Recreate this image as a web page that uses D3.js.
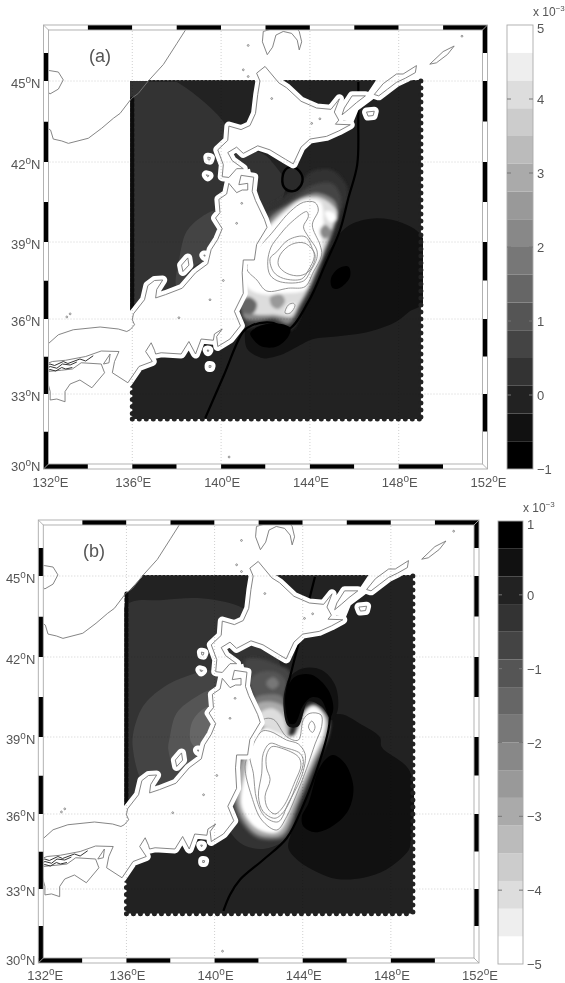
<!DOCTYPE html>
<html>
<head>
<meta charset="utf-8">
<script src="https://cdn.jsdelivr.net/npm/d3@7/dist/d3.min.js"></script>
<style>
  body { margin: 0; background: #fff; }
  svg { display: block; filter: blur(0.45px); }
  text { font-family: "Liberation Sans", Arial, sans-serif; fill: #555; }
</style>
</head>
<body>
<div id="chart"></div>
<script>
// axis labels
const lonTicks = [132, 136, 140, 144, 148, 152];
const latTicks = [30, 33, 36, 39, 42, 45];
const lonBreaks = [132, 134, 136, 138, 140, 142, 144, 146, 148, 150, 152];
const latBreaks = [30, 31.5, 33, 34.5, 36, 37.5, 39, 40.5, 42, 43.5, 45, 46, 47];
const barTicksA = [-1, 0, 1, 2, 3, 4, 5];
const barTicksB = [-5, -4, -3, -2, -1, 0, 1];
const grays = ["#000", "#111", "#222", "#333", "#444", "#555", "#666", "#777",
  "#888", "#999", "#aaa", "#bbb", "#ccc", "#ddd", "#eee", "#fff"];

// land, [lon, lat]
const honshu = [[131.8,34.1],[132.4,34.3],[133,34.35],[133.9,34.5],[134.6,34.72],[135.4,34.7],[135.2,34.3],[135.1,33.85],[135.8,33.45],[136.3,34.1],[136.9,34.3],[136.6,34.7],[136.85,35.05],[137,34.75],[137.05,34.6],[137.3,34.65],[138.2,34.6],[138.55,35.1],[138.85,34.6],[139.1,35.2],[139.65,35.15],[139.7,35.4],[140.05,35.6],[139.8,35.3],[139.85,34.9],[140.4,35.2],[140.87,35.73],[140.6,36.3],[141,37],[140.95,37.8],[141,38.3],[141.5,38.3],[141.6,38.9],[142.07,39.55],[141.95,39.85],[141.55,40.55],[141.4,40.9],[141.47,41.43],[140.9,41.5],[140.8,41.15],[141.2,41.2],[141.2,40.95],[140.95,40.95],[140.7,40.85],[140.35,41.2],[140.25,40.8],[139.9,40.6],[139.95,40.1],[139.75,39.9],[140.05,39.5],[139.85,39.1],[139.55,38.7],[139.4,38.15],[138.85,37.8],[138.25,37.2],[137.5,36.95],[137.05,36.82],[137.1,37.15],[137.37,37.52],[137,37.5],[136.7,37.3],[136.55,36.75],[136.05,36.2],[136,35.97],[136.1,35.77],[135.9,35.57],[135.75,35.5],[135.37,35.6],[134.55,35.68],[133.34,35.57],[132.67,35.37],[132.2,35],[131.8,34.8]];
const hokkaido = [[141.6,45.28],[141.98,45.52],[142.6,44.93],[142.95,44.75],[143.6,44.25],[144.3,44],[144.95,43.95],[145.33,44.34],[145.1,43.85],[145.3,43.55],[145.15,43.4],[145.82,43.38],[145.3,43.15],[144.75,42.95],[144,42.85],[143.6,42.55],[143.25,41.93],[142.9,42.1],[142.2,42.45],[141.65,42.6],[141,42.32],[140.7,42.55],[140.3,42.35],[140.5,42.05],[141,41.75],[140.7,41.75],[140.35,41.42],[140.05,41.45],[140.1,41.9],[139.85,42.45],[140.3,42.8],[140.35,43.33],[140.9,43.2],[141.3,43.35],[141.55,43.8],[141.65,44.5],[141.75,45]];
const shikoku = [[134.6,34.2],[134.75,33.85],[134.18,33.25],[133.64,33.56],[133.2,33.4],[132.97,33.1],[132.97,32.69],[132.6,32.8],[132.3,32.76],[132.3,33.1],[132.2,33.43],[132.05,33.6],[132.2,33.9],[132.8,33.95],[133.3,34],[133.7,34.25]];
const awaji = [[134.7,34.2],[135,34.6],[134.95,34.25]];
const sado = [[138.22,38.1],[138.5,38.38],[138.55,38.1],[138.28,37.85]];
const kunashiri = [[145.45,43.75],[145.55,44],[145.9,44.45],[146.5,44.45],[146.1,44.2],[145.75,43.95]];
const etorofu = [[146.9,44.5],[147.3,44.9],[147.9,45.25],[148.2,45.25],[148.8,45.55],[148.75,45.3],[148.3,45.1],[147.9,44.95],[147.5,44.7],[147.1,44.45]];
const urup = [[149.4,45.6],[150,46.05],[150.5,46.25],[150.2,45.95],[149.7,45.65]];
const shikotan = [[146.55,43.85],[146.9,43.88],[146.85,43.72],[146.62,43.7]];
const okushiri = [[139.4,42.18],[139.52,42.16],[139.48,42.07],[139.42,42.08]];
const oshima = [[139.33,41.52],[139.46,41.49],[139.4,41.44]];
const awashima = [[139.22,38.49],[139.28,38.49],[139.26,38.44]];
const miyake = [[139.46,34.14],[139.55,34.13],[139.53,34.06],[139.46,34.06]];
const izuOshima = [[139.37,34.76],[139.45,34.75],[139.41,34.69]];
const landRings = [honshu, hokkaido, shikoku, awaji, sado, kunashiri, etorofu, urup, shikotan, okushiri, oshima, awashima, miyake, izuOshima];

const primorye = [[138.45,46.89],[138,46.33],[137.4,45.59],[136.72,45],[136.27,44.54],[135.97,44.36],[135.45,43.8],[135.15,43.62],[134.62,43.25],[134.02,42.88],[133.12,42.69],[132.82,42.78],[132.44,42.85],[132.32,43.18],[132.1,43.3],[131.9,43.3]];
const khanka = [[132,45.4],[132.29,45.37],[132.67,45.32],[132.89,45.04],[132.67,44.7],[132.29,44.52],[132.1,44.7]];
const sakhalin = [[142.43,46.89],[141.9,46.77],[141.86,46.4],[142.08,45.94],[142.32,46.21],[142.47,46.64],[142.8,46.77],[143.18,46.7],[143.43,46.46],[143.52,46.11],[143.63,46.4],[143.52,46.77],[143.4,46.89]];
const setoNorth = [[132.1,34.12],[132.29,34.2],[132.5,34.14],[132.89,34.3],[133.1,34.22],[133.64,34.4],[133.9,34.32],[134.24,34.53]];
const setoMid = [[132.1,34],[132.3,34.1],[132.6,34.03],[132.85,34.2],[133.2,34.16],[133.5,34.28]];
const setoSouth = [[132.1,33.88],[132.29,33.98],[132.55,33.92],[132.82,34.06],[133,34],[133.3,34.06]];
const openCoasts = [primorye, khanka, sakhalin];
const setoIslands = [setoNorth, setoMid, setoSouth];

const islets = [[141.22,45.16],[141,45.4],[141.22,46.27],[142.28,44.35],[144.45,43.6],[144.08,43.43],[140.93,40.45],[140.7,39.7],[140.1,37.5],[139.5,36.75],[138.1,36.05],[140.36,30.48],[133.2,36.2],[133.05,36.08],[150.85,46.6]];

// shallow water the field leaves blank
const tsugaruGap = [[140,41.5],[141.3,41.75],[141.4,41.4],[140.3,41.1]];
const kurilGap = [[147,45.05],[146.63,44.6],[145.8,44.48],[145.43,44.23],[145.3,43.6],[145.95,43.45],[146.18,43.92],[146.7,44.23],[147.76,44.9],[147.9,45.05]];
const gaps = [tsugaruGap, kurilGap];

// field outline
const fieldRing = [[136.75,45],[149,45],[149,32],[136,32],[136,44.35]];
const edgeRight = [[149,45],[149,32]];
const edgeBottom = [[136,32],[149,32]];
const edgeLeftUp = [[136,44.35],[136,36]];
const edgeLeftLow = [[136,33.9],[136,32]];
const edgeTop = [[136.75,45],[149,45]];

// panel (a) contour bands
const aWest = [[135.9,45.2],[137.4,45.2],[140.1,43.5],[140.5,42.6],[141.9,42.3],[142.4,41.9],[142.9,41.2],[142.7,40.5],[142,39.5],[141,39],[140,36],[135.9,36]];
const aWestIn = [[138.15,38.52],[138.45,39.4],[139.05,39.9],[139.8,40.2],[141,40],[141,37.5],[139.05,38.17],[138,37.27]];
const aEast = [[145.13,39.01],[145.43,39.39],[145.95,39.7],[147,39.89],[148.2,39.7],[149.1,39.14],[149.1,36.62],[148.5,36.3],[147.9,35.9],[146.7,35.5],[145.2,35.3],[144.15,35.2],[143.55,34.95],[142.8,34.6],[142.2,34.45],[141.9,34.43],[141.2,34.77],[141.07,35.3],[141.15,35.64],[143,36],[144,37.5]];
const aHot1 = [[141.83,40.14],[142.73,40.64],[143.56,41.2],[144.08,41.64],[144.98,41.7],[145.6,41.2],[145.7,40.7],[145.43,40.14],[145.13,39.39],[144.68,38.36],[144.23,37.32],[143.71,36.42],[143.18,35.57],[142.13,35.83],[141.08,35.63],[140.78,36.67],[141.08,38.1],[141.53,39]];
const aHot2 = [[141.98,39.95],[142.81,40.39],[143.56,40.83],[144.16,41.14],[144.98,41.2],[145.36,40.76],[145.36,40.14],[145.06,39.39],[144.61,38.43],[144.16,37.4],[143.66,36.55],[143.11,35.76],[142.13,35.96],[141.23,35.76],[140.93,36.67],[141.23,38.1],[141.61,39]];
const aHot3 = [[142.21,39.89],[143.03,40.39],[143.71,40.7],[144.38,40.83],[145.13,40.51],[145.21,40.01],[144.98,39.33],[144.53,38.36],[144,37.26],[143.56,36.55],[143.03,35.83],[142.43,36.03],[141.68,35.96],[141.08,36.03],[140.93,36.67],[141.23,38.1],[141.61,38.88]];
const aHot4 = [[142.13,39.58],[142.88,40.2],[143.71,40.64],[144.53,40.64],[145.21,40.14],[145,39.55],[144.53,38.5],[144.16,37.72],[143.86,37.13],[143.48,36.55],[143.18,36.09],[142.43,36.16],[141.68,36.16],[141.08,36.29],[140.93,37.2],[141.23,38.1],[141.61,38.75]];
const aHot5 = [[142.06,39.45],[142.96,40.14],[143.71,40.57],[144.46,40.51],[144.61,39.75],[144.53,39],[144.53,38.5],[144.11,37.72],[143.78,37.13],[142.88,37],[141.98,36.95],[141.23,37.2],[140.93,38],[141.53,38.88]];
const aSpotNE = [[144.68,40.13],[144.98,40.13],[145.21,39.87],[144.91,39.74]];
const aSpotGray = [[144.46,39.45],[144.68,39.65],[144.95,39.42],[144.76,39.14],[144.53,39.2]];
const aSpotB = [[140.86,36.61],[141.23,36.87],[141.61,36.61],[141.46,36.23],[141.01,36.23]];
const aSpotC = [[142.21,36.84],[142.66,36.97],[142.88,36.71],[142.58,36.39],[142.28,36.52]];
const aSpotW = [[142.88,36.23],[143.03,36.55],[143.26,36.61],[143.33,36.52],[143.11,36.23]];
const aColdE = [[144.98,37.26],[144.95,37.59],[145.29,37.97],[145.74,38.04],[145.81,37.65],[145.43,37.26],[145.14,37.17]];
const aColdS = [[141.31,35.43],[141.68,35.7],[142.43,35.83],[143.11,35.65],[143.03,35.3],[142.51,34.9],[141.83,34.9],[141.46,35.17]];
const aLoop = [[142.76,41.39],[142.96,41.76],[143.33,41.79],[143.66,41.45],[143.56,41.08],[143.26,40.91],[142.88,41.01]];
const aBase = [[aWest, 0.3], [aWestIn, 0.6], [aEast, -0.4]];
const aHot = [[aHot1, 0.3], [aHot2, 0.6], [aHot3, 2.1], [aHot4, 4], [aHot5, 4.9], [aSpotNE, 4.9], [aSpotGray, 2.1], [aSpotB, 1.6], [aSpotC, 2.5], [aSpotW, 4.9]];
const aCold = [[aColdE, -0.8], [aColdS, -0.8]];

const aLine1 = [[142.28,39.33],[142.58,39.64],[143.11,40.14],[143.71,40.49],[144.23,40.48],[144.38,40.2],[144.11,39.64],[144.46,38.88],[144.53,38.49],[144.16,37.84],[143.78,37.26],[143.03,37.2],[142.06,37.09],[141.61,37.52],[141.16,37.97],[141.68,38.75]];
const aLine2 = [[142.25,38.8],[142.58,39.2],[143.11,39.7],[143.86,40.14],[143.93,39.95],[143.71,39.57],[143.93,39.2],[144.31,38.69],[144.31,38.36],[144.01,37.84],[143.71,37.48],[142.66,37.45],[142.21,37.71],[142.1,38.23]];
const aLine3 = [[142.51,38.62],[143.03,39.08],[143.78,39.2],[144.11,38.75],[144.2,38.43],[143.93,37.9],[143.63,37.56],[142.81,37.58],[142.36,37.84],[142.21,38.36]];
const aLine4 = [[142.66,38.5],[143.18,38.91],[143.78,38.95],[144.23,38.5],[144.01,37.91],[143.56,37.69],[142.96,37.78],[142.58,38.1]];
const aLines = [aLine1, aLine2, aLine3, aLine4, aSpotW];
const aFront = [[[139.28,32.03],[140.1,33.7],[141,35.5],[141.4,35.75],[142.3,35.85],[143.03,35.6],[143.93,36.67],[144.68,38.1],[145.36,39.45],[145.73,40.64],[146.13,41.89],[146.18,43.5],[146.18,45]]];

// panel (b) contour bands
const bWest1 = [[135.9,43.85],[137.67,44.11],[139.49,44.17],[141.3,43.8],[142.2,43],[142.8,42.2],[143,41.2],[142.5,40],[141,38],[140,36],[135.9,36]];
const bWest2 = [[136.3,39.1],[136.75,40.15],[137.65,40.85],[138.7,41.27],[139.9,41.5],[141,41],[141,37],[137,37],[136.6,37.45],[136.3,38.5]];
const bWest3 = [[137.97,39],[138.28,39.9],[139.19,40.52],[139.87,40.78],[141,40.8],[141,37],[138.3,37.7],[137.9,38.5]];
const bWest4 = [[138.88,39],[139.03,39.65],[139.8,40.15],[141,39.5],[141,38.5],[139.4,38.5],[139,38.7]];
const bEast = [[145.17,39.78],[145.77,39.85],[146.6,39.5],[147.5,39],[147.59,38.6],[148.87,37.65],[148.87,34.7],[148.72,34.45],[147.8,33.78],[146.76,33.45],[145.55,33.4],[144.64,33.68],[143.8,34.13],[143.35,34.63],[143.43,35.1],[144.03,36.35],[144.79,38.1],[145.09,39.2]];
const bSouth = [[140.55,35.76],[141.15,34.85],[142.21,34.6],[143.27,35.03],[143.6,36],[141.5,37]];
const bEdge1 = [[141.38,41.89],[141.99,41.95],[142.89,41.7],[143.42,41.45],[143.27,40.89],[143.2,40.14],[143.5,39.45],[143.12,39.08],[142.29,39.51],[141.84,40.39],[141.46,41.39]];
const bEdge2 = [[141.61,41.14],[142.14,41.45],[142.89,41.39],[143.27,41.01],[143.12,40.51],[143.42,39.4],[143.05,39.14],[142.29,39.58],[141.91,40.26]];
const bEdge3 = [[141.76,40.39],[142.29,40.58],[143.05,40.51],[143.27,39.89],[143.42,39.26],[143.05,39.01],[142.14,39.51]];
const bEdge4 = [[141.91,40.2],[142.44,40.33],[143.12,40.14],[143.35,39.45],[143.35,39.01],[142.89,38.95],[142.14,39.64]];
const bEdge5 = [[142.06,39.89],[142.59,40.08],[143.05,39.83],[143.23,39.36],[143.27,38.95],[142.59,38.95],[142.06,39.58]];
const bSpot = [[142.36,41.07],[142.67,41.24],[142.92,41.01],[142.67,40.79],[142.41,40.89]];
const bHot1 = [[140.93,36.16],[141.84,35.09],[142.74,34.96],[143.2,35.09],[143.88,36.43],[144.56,37.84],[145.16,39.01],[145.24,39.64],[144.86,40.08],[144.48,40.26],[144.1,40.08],[143.73,39.46],[143.5,38.95],[143.05,39.01],[142.14,39.39],[141.68,38.88],[140.93,37.6]];
const bHot2 = [[141.08,36.23],[141.84,35.25],[142.74,35.09],[143.12,35.23],[143.8,36.56],[144.48,37.93],[145.09,39.08],[145.13,39.64],[144.83,40.04],[144.48,40.2],[144.13,40.04],[143.77,39.36],[143.53,39.08],[143.05,39.1],[142.29,39.37],[141.76,38.88],[141.08,37.6]];
const bHot3 = [[141.23,36.29],[141.91,35.43],[142.74,35.25],[143.05,35.43],[143.65,36.62],[144.33,37.93],[144.94,39.08],[145.01,39.64],[144.79,40],[144.48,40.14],[144.18,40],[143.83,39.33],[143.58,39.01],[143.05,39.1],[142.29,39.33],[141.76,38.88],[141.38,37.6]];
const bHookOut = [[143.42,41.26],[144.03,41.58],[144.86,41.51],[145.47,40.95],[145.59,40.01],[145.32,39.64],[144.86,40.14],[144.26,40.33],[143.8,39.4],[143.35,39.4],[143.12,40.26],[143.23,40.89]];
const bHook = [[143.27,40.76],[143.65,41.26],[144.41,41.33],[145.16,40.76],[145.39,40.08],[145.24,39.74],[144.83,40.41],[144.41,40.49],[144.03,40.2],[143.65,39.51],[143.42,39.51],[143.2,40.26]];
const bColdE = [[145.39,38.3],[145.92,37.97],[146.3,37.06],[146.08,36.16],[145.32,35.5],[144.56,35.27],[144.03,35.5],[143.96,35.9],[144.26,36.42],[144.71,37.71],[145.09,38.17]];
const bBase = [[bWest1, -0.25], [bWest2, -0.6], [bWest3, -1], [bWest4, -1.4], [bEast, 0.4], [bSouth, -0.25]];
const bHot = [[bEdge1, -0.6], [bEdge2, -1], [bSpot, -1.8], [bEdge3, -1.8], [bEdge4, -3], [bEdge5, -4], [bHot1, -1.4], [bHot2, -3], [bHot3, -4.9]];
const bCold = [[bHookOut, 0.4], [bHook, 0.8], [bColdE, 0.8]];

const bLine1 = [[142.21,39.66],[142.67,39.66],[143.27,39.01],[143.8,38.88],[144.03,39.66],[144.33,39.89],[144.83,39.83],[144.86,39.4],[144.56,38.73],[144.18,37.78],[143.8,36.93],[143.27,35.89],[142.82,35.36],[142.14,35.76],[141.68,36.69],[141.38,37.84],[141.53,38.36],[141.84,39.14]];
const bLine2 = [[141.61,38.3],[142.14,39.21],[142.52,39.21],[143.27,38.88],[143.8,38.73],[144.1,38.36],[144.1,37.97],[143.88,37.32],[143.35,36.43],[142.89,35.69],[142.29,35.89],[141.91,36.56],[141.76,37.59]];
const bLine3 = [[142.21,38.36],[142.52,38.75],[143.05,38.62],[143.88,38.36],[144.03,38.04],[143.73,37.2],[143.2,36.16],[142.74,35.83],[142.21,36.09],[141.99,36.69],[142.14,37.59]];
const bLine4 = [[142.36,38.3],[142.59,38.62],[143.05,38.56],[143.8,38.23],[143.92,37.9],[143.65,37.27],[143.12,36.29],[142.74,36],[142.41,36.22],[142.29,36.69],[142.52,37.34],[142.36,37.79]];
const bLine5 = [[144.26,39.38],[144.41,39.6],[144.56,39.38],[144.44,39.17]];
const bLines = [bLine1, bLine2, bLine3, bLine4, bLine5];
const bFront = [[[140.4,32.11],[140.7,32.77],[141.15,33.37],[142.21,34.17],[143.27,35.03],[144.03,36.35],[144.79,38.1],[145.17,39.27],[145.24,39.78]],
  [[144.56,44.98],[144.33,44.24],[143.81,42.5],[143.5,41.5],[143.28,40.65],[143.42,39.5]]];

const latStops = [30, 33, 36, 39, 42, 45, 46, 47];

const svg = d3.select("#chart").append("svg").attr("width", 565).attr("height", 983);
const defs = svg.append("defs");
defs.append("filter").attr("id", "soft").attr("x", "-20%").attr("y", "-20%").attr("width", "140%").attr("height", "140%")
  .append("feGaussianBlur").attr("stdDeviation", 1.6);

function tickLabel(g, px, py, anchor, value, hemi) {
  const t = g.append("text").attr("x", px).attr("y", py).attr("text-anchor", anchor).attr("font-size", 13);
  t.append("tspan").text(value);
  t.append("tspan").attr("font-size", 10).attr("dy", -5).text("o");
  t.append("tspan").attr("dy", 5).text(hemi);
}

function drawPanel(p) {
  const g = svg.append("g");
  const x = d3.scaleLinear().domain([132, 152]).range([p.left, p.right]);
  const y = d3.scaleLinear().domain(latStops).range(p.latRange);
  const inset = 5;
  const clipId = "clip" + p.id;
  defs.append("clipPath").attr("id", clipId).append("rect")
    .attr("x", p.left + inset).attr("y", y(47) + inset)
    .attr("width", p.right - p.left - 2 * inset).attr("height", y(30) - y(47) - 2 * inset);
  const fieldClip = "field" + p.id;
  defs.append("clipPath").attr("id", fieldClip).append("rect")
    .attr("x", x(135.9)).attr("y", y(45)).attr("width", x(149.1) - x(135.9)).attr("height", y(32) - y(45));

  const flat = d3.line().x(d => x(d[0])).y(d => y(d[1]));
  const poly = d3.line().x(d => x(d[0])).y(d => y(d[1])).curve(d3.curveLinearClosed);
  const round = d3.line().x(d => x(d[0])).y(d => y(d[1])).curve(d3.curveCatmullRomClosed.alpha(0.5));
  const bend = d3.line().x(d => x(d[0])).y(d => y(d[1])).curve(d3.curveCatmullRom.alpha(0.5));

  // filled field
  const inner = g.append("g").attr("clip-path", `url(#${clipId})`);
  const field = inner.append("g").attr("clip-path", `url(#${fieldClip})`);
  field.append("path").attr("d", poly(fieldRing)).attr("fill", p.color(p.baseValue));
  field.selectAll(".base").data(p.base).enter().append("path")
    .attr("d", d => round(d[0])).attr("fill", d => p.color(d[1]));
  field.append("g").attr("filter", "url(#soft)")
    .selectAll("path").data(p.hot).enter().append("path")
    .attr("d", d => round(d[0])).attr("fill", d => p.color(d[1]));
  field.selectAll(".cold").data(p.cold).enter().append("path")
    .attr("d", d => round(d[0])).attr("fill", d => p.color(d[1]));
  field.selectAll(".iso").data(p.lines).enter().append("path")
    .attr("d", d => round(d)).attr("fill", "none").attr("stroke", "#8a8a8a").attr("stroke-width", 0.9);
  if (p.loop) {
    field.append("path").attr("d", round(p.loop)).attr("fill", "#2a2a2a")
      .attr("stroke", "#000").attr("stroke-width", 2.4);
  }
  field.selectAll(".front").data(p.front).enter().append("path")
    .attr("d", d => bend(d)).attr("fill", "none").attr("stroke", "#000").attr("stroke-width", 2.2);

  // jagged edges of the field
  const edges = [[edgeRight, p.color(p.baseValue), 5, "0 7"], [edgeBottom, p.color(p.baseValue), 5, "0 7"],
    [edgeLeftLow, p.color(p.baseValue), 5, "0 7"], [edgeLeftUp, "#0c0c0c", 4, "3 2"], [edgeTop, p.color(p.baseValue), 2, "2 2"]];
  inner.selectAll(".edge").data(edges).enter().append("path")
    .attr("d", d => flat(d[0])).attr("fill", "none").attr("stroke", d => d[1])
    .attr("stroke-width", d => d[2]).attr("stroke-dasharray", d => d[3]).attr("stroke-linecap", "round");

  // land mask with its white halo
  inner.selectAll(".gap").data(gaps).enter().append("path")
    .attr("d", d => poly(d)).attr("fill", "#fff");
  inner.selectAll(".halo").data(landRings).enter().append("path")
    .attr("d", d => poly(d)).attr("fill", "#fff").attr("stroke", "#fff")
    .attr("stroke-width", 9).attr("stroke-linejoin", "round");

  // grid
  const grid = inner.append("g").style("mix-blend-mode", "multiply");
  grid.selectAll(".gx").data(lonTicks.slice(1, -1)).enter().append("line")
    .attr("x1", d => x(d)).attr("x2", d => x(d)).attr("y1", y(47)).attr("y2", y(30))
    .attr("stroke", "#c4c4c4").attr("stroke-width", 0.8).attr("stroke-dasharray", "1 2");
  grid.selectAll(".gy").data(latTicks.slice(1)).enter().append("line")
    .attr("y1", d => y(d)).attr("y2", d => y(d)).attr("x1", x(132)).attr("x2", x(152))
    .attr("stroke", "#c4c4c4").attr("stroke-width", 0.8).attr("stroke-dasharray", "1 2");

  // coast
  inner.selectAll(".coast").data(landRings).enter().append("path")
    .attr("d", d => poly(d)).attr("fill", "none").attr("stroke", "#777").attr("stroke-width", 0.9);
  inner.selectAll(".open").data(openCoasts).enter().append("path")
    .attr("d", d => flat(d)).attr("fill", "none").attr("stroke", "#777").attr("stroke-width", 0.9);
  inner.selectAll(".seto").data(setoIslands).enter().append("path")
    .attr("d", d => flat(d)).attr("fill", "none").attr("stroke", "#333").attr("stroke-width", 1);
  inner.selectAll(".islet").data(islets).enter().append("circle")
    .attr("cx", d => x(d[0])).attr("cy", d => y(d[1])).attr("r", 0.9)
    .attr("fill", "#fff").attr("stroke", "#666").attr("stroke-width", 0.7);

  // fancy frame
  const frame = g.append("g");
  const top = y(47), bottom = y(30), left = x(132), right = x(152);
  d3.pairs(lonBreaks).forEach((b, i) => {
    frame.append("rect").attr("x", x(b[0])).attr("y", top).attr("width", x(b[1]) - x(b[0])).attr("height", inset)
      .attr("fill", i % 2 ? "#000" : "#fff");
    frame.append("rect").attr("x", x(b[0])).attr("y", bottom - inset).attr("width", x(b[1]) - x(b[0])).attr("height", inset)
      .attr("fill", i % 2 ? "#fff" : "#000");
  });
  d3.pairs(latBreaks).forEach((b, i) => {
    frame.append("rect").attr("x", left).attr("y", y(b[1])).attr("width", inset).attr("height", y(b[0]) - y(b[1]))
      .attr("fill", i % 2 ? "#fff" : "#000");
    frame.append("rect").attr("x", right - inset).attr("y", y(b[1])).attr("width", inset).attr("height", y(b[0]) - y(b[1]))
      .attr("fill", i % 2 ? "#000" : "#fff");
  });
  frame.append("rect").attr("x", left).attr("y", top).attr("width", right - left).attr("height", bottom - top)
    .attr("fill", "none").attr("stroke", "#aaa").attr("stroke-width", 0.9);
  frame.append("rect").attr("x", left + inset).attr("y", top + inset).attr("width", right - left - 2 * inset).attr("height", bottom - top - 2 * inset)
    .attr("fill", "none").attr("stroke", "#aaa").attr("stroke-width", 0.9);
  [[left, top, 1, 1], [right, top, -1, 1], [left, bottom, 1, -1], [right, bottom, -1, -1]].forEach(c => {
    frame.append("line").attr("x1", c[0]).attr("y1", c[1]).attr("x2", c[0] + c[2] * inset).attr("y2", c[1] + c[3] * inset)
      .attr("stroke", "#aaa").attr("stroke-width", 0.9);
  });

  // axis labels, the 30N one sits a little higher to clear the 132E one
  lonTicks.forEach(d => tickLabel(g, x(d) + (d === 132 ? 7 : 1), p.lonLabelY, "middle", d, "E"));
  latTicks.forEach(d => tickLabel(g, left - 3, y(d) + (d === 30 ? 2 : 7), "end", d, "N"));
  g.append("text").attr("x", p.tagX).attr("y", p.tagY).attr("text-anchor", "middle").attr("font-size", 18).text(p.tag);

  // colour bar
  const bar = g.append("g");
  const by = d3.scaleLinear().domain(p.color.domain()).range(p.barRange);
  bar.selectAll("rect").data(p.color.range()).enter().append("rect")
    .attr("x", p.barX).attr("width", p.barW)
    .attr("y", d => by(p.color.invertExtent(d)[1]))
    .attr("height", d => by(p.color.invertExtent(d)[0]) - by(p.color.invertExtent(d)[1]))
    .attr("fill", d => d);
  bar.append("rect").attr("x", p.barX).attr("y", p.barRange[1]).attr("width", p.barW)
    .attr("height", p.barRange[0] - p.barRange[1]).attr("fill", "none").attr("stroke", "#aaa").attr("stroke-width", 0.9);
  const topValue = p.color.domain()[1];
  p.barTicks.forEach(d => {
    if (d !== p.color.domain()[0] && d !== topValue) {
      bar.append("line").attr("x1", p.barX).attr("x2", p.barX + 4).attr("y1", by(d)).attr("y2", by(d)).attr("stroke", "#777");
      bar.append("line").attr("x1", p.barX + p.barW - 4).attr("x2", p.barX + p.barW).attr("y1", by(d)).attr("y2", by(d)).attr("stroke", "#777");
    }
    bar.append("text").attr("x", p.barX + p.barW + 4).attr("y", by(d) + (d === topValue ? 8 : 5)).attr("font-size", 13)
      .text(String(d).replace("-", "\u2212"));
  });
  const mult = bar.append("text").attr("x", p.barX + p.barW).attr("y", p.barRange[1] - 9).attr("font-size", 12);
  mult.append("tspan").text("x 10");
  mult.append("tspan").attr("font-size", 8).attr("dy", -5).text("\u22123");
}

drawPanel({
  id: "a", tag: "(a)", tagX: 100, tagY: 62,
  left: 43.5, right: 487.5, latRange: [469, 394, 319, 242, 162, 81, 53, 25], lonLabelY: 487,
  color: d3.scaleQuantize().domain([-1, 5]).range(grays), baseValue: -0.1,
  base: aBase, hot: aHot, cold: aCold, lines: aLines, loop: aLoop, front: aFront,
  barX: 507, barW: 26, barRange: [469, 25], barTicks: barTicksA
});

drawPanel({
  id: "b", tag: "(b)", tagX: 94, tagY: 557,
  left: 38.3, right: 479, latRange: [963, 889, 814, 737, 657, 576, 548, 520], lonLabelY: 980,
  color: d3.scaleQuantize().domain([-5, 1]).range(grays.slice().reverse()), baseValue: 0.1,
  base: bBase, hot: bHot, cold: bCold, lines: bLines, loop: null, front: bFront,
  barX: 498, barW: 25, barRange: [964, 521], barTicks: barTicksB
});
</script>
</body>
</html>
